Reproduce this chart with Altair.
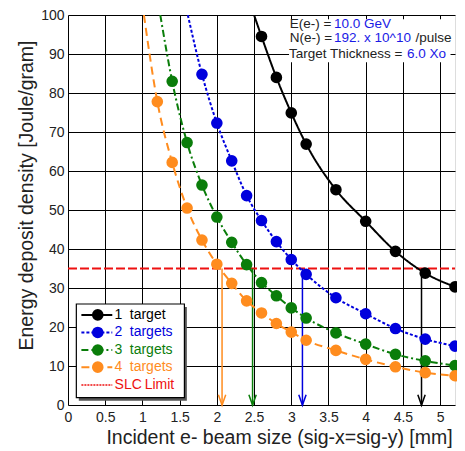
import altair as alt
import pandas as pd

FONT = "Liberation Sans"

# beam sizes (mm)
sizes = [1.2, 1.4, 1.6, 1.8, 2.0, 2.2, 2.4, 2.6, 2.8, 3.0, 3.2, 3.6, 4.0, 4.4, 4.8, 5.2]

t1_vals = [94.5, 84.0, 74.9, 66.9, 55.2, 47.1, 39.4, 33.8, 30.3]                 # from 2.6
t2_vals = [84.8, 72.3, 62.6, 53.7, 47.3, 41.9, 37.3, 33.5, 27.5, 23.4, 19.6, 16.9, 15.1]  # from 1.8
t3_vals = [83.0, 67.3, 56.4, 48.2, 41.7, 36.0, 31.4, 28.0, 24.9, 22.3, 18.5, 15.6, 13.0, 11.3, 10.1]  # from 1.4
t4_vals = [77.8, 62.2, 50.5, 42.3, 36.1, 31.2, 26.7, 23.6, 20.9, 18.7, 16.6, 14.0, 11.7, 9.8, 8.3, 7.5]  # from 1.2

# where each fitted curve leaves the top of the plot
curve_top_x = [2.50, 1.61, 1.24, 1.02]

series_nums = ["1", "2", "3", "4"]
series_words = ["target", "targets", "targets", "targets"]
series_vals = [t1_vals, t2_vals, t3_vals, t4_vals]
series_colors = ["#000000", "#0000dd", "#0a7d0a", "#ff8c1e"]
series_dash = [[1, 0], [3, 2], [7, 3, 2, 3], [8, 5]]

slc_limit = 35.0
arrow_x = [4.75, 3.15, 2.48, 2.07]

x_ticks = [0, 0.5, 1, 1.5, 2, 2.5, 3, 3.5, 4, 4.5, 5]
y_ticks = [0, 10, 20, 30, 40, 50, 60, 70, 80, 90, 100]

xs = alt.Scale(domain=[0, 5.2], nice=False, zero=False)
ys = alt.Scale(domain=[0, 100], nice=False, zero=False)

x_axis = alt.Axis(values=x_ticks, format="~g", title="Incident e- beam size (sig-x=sig-y) [mm]",
                  grid=True, gridColor="#000000", gridWidth=1, gridOpacity=1,
                  ticks=False, domain=False, labelFontSize=14, labelFont=FONT, labelColor="#222222",
                  labelPadding=5, titleFont=FONT, titleFontSize=19.5, titleFontWeight="normal",
                  titleColor="#222222", titleX=211, titleY=38, titleBaseline="alphabetic",
                  labelFlush=False, labelOverlap=False)
y_axis = alt.Axis(values=y_ticks, title="Energy deposit density [Joule/gram]",
                  grid=True, gridColor="#000000", gridWidth=1, gridOpacity=1,
                  ticks=False, domain=False, labelFontSize=14, labelFont=FONT, labelColor="#222222",
                  labelPadding=4, titleFont=FONT, titleFontSize=19.5, titleFontWeight="normal",
                  titleColor="#222222", titleX=-42, titleY=180, titleAngle=270,
                  titleBaseline="middle", titleAlign="center", labelFlush=False, labelOverlap=False)


def X(f):
    return alt.X(f, scale=xs, axis=x_axis)


def Y(f):
    return alt.Y(f, scale=ys, axis=y_axis)


layers = []

# SLC limit
slc_df = pd.DataFrame({"x": [0.0], "x2": [5.2], "y": [slc_limit]})
layers.append(alt.Chart(slc_df).mark_rule(color="#ee1111", strokeWidth=2, strokeDash=[9, 3]).encode(
    x=X("x:Q"), x2="x2:Q", y=Y("y:Q")))

# arrows
for i in range(4):
    adf = pd.DataFrame({"x": [arrow_x[i]], "y": [slc_limit], "y2": [0.0], "yh": [0.0]})
    layers.append(alt.Chart(adf).mark_rule(color=series_colors[i], strokeWidth=1.5).encode(
        x=X("x:Q"), y=Y("y:Q"), y2="y2:Q"))
    layers.append(alt.Chart(adf).mark_point(
        shape="M-0.6,-0.7L0,1L0.6,-0.7", filled=False, stroke=series_colors[i],
        strokeWidth=1.5, size=150, opacity=1, yOffset=-6).encode(
        x=X("x:Q"), y=Y("yh:Q")))

# curves and markers
for i in range(4):
    vals = series_vals[i]
    xsz = sizes[len(sizes) - len(vals):]
    line_df = pd.DataFrame({"x": [curve_top_x[i]] + xsz, "y": [100.0] + vals})
    pt_df = pd.DataFrame({"x": xsz, "y": vals})
    layers.append(alt.Chart(line_df).mark_line(
        color=series_colors[i], strokeWidth=2, strokeDash=series_dash[i],
        interpolate="monotone", clip=True).encode(
        x=X("x:Q"), y=Y("y:Q"), order="x:Q"))
    layers.append(alt.Chart(pt_df).mark_circle(color=series_colors[i], size=135, opacity=1).encode(
        x=X("x:Q"), y=Y("y:Q")))

# legend (hand built)
leg_box = [0.112, 1.564, 1.87, 25.9]          # x, x2, y (bottom), y2 (top)
leg_shadow = [0.145, 1.597, 1.1, 25.1]
leg_rows = [23.1, 18.6, 14.1, 9.7, 5.1]
leg_line_x = [0.18, 0.595]
leg_mark_x = 0.40
leg_num_x = 0.626
leg_word_x = 0.83
leg_limit_x = 1.03

sh = pd.DataFrame({"x": [leg_shadow[0]], "x2": [leg_shadow[1]], "y": [leg_shadow[2]], "y2": [leg_shadow[3]]})
layers.append(alt.Chart(sh).mark_rect(color="#555555").encode(
    x=X("x:Q"), x2="x2:Q", y=Y("y:Q"), y2="y2:Q"))
bx = pd.DataFrame({"x": [leg_box[0]], "x2": [leg_box[1]], "y": [leg_box[2]], "y2": [leg_box[3]]})
layers.append(alt.Chart(bx).mark_rect(fill="#ffffff", stroke="#000000", strokeWidth=1.2).encode(
    x=X("x:Q"), x2="x2:Q", y=Y("y:Q"), y2="y2:Q"))

for i in range(4):
    ly = leg_rows[i]
    ldf = pd.DataFrame({"x": leg_line_x, "y": [ly, ly]})
    layers.append(alt.Chart(ldf).mark_line(color=series_colors[i], strokeWidth=2,
                                           strokeDash=series_dash[i]).encode(
        x=X("x:Q"), y=Y("y:Q")))
    mdf = pd.DataFrame({"x": [leg_mark_x], "y": [ly], "n": [series_nums[i]], "w": [series_words[i]],
                        "xn": [leg_num_x], "xw": [leg_word_x]})
    layers.append(alt.Chart(mdf).mark_circle(color=series_colors[i], size=135, opacity=1).encode(
        x=X("x:Q"), y=Y("y:Q")))
    layers.append(alt.Chart(mdf).mark_text(color=series_colors[i], font=FONT, fontSize=14,
                                           align="left", baseline="middle").encode(
        x=X("xn:Q"), y=Y("y:Q"), text="n:N"))
    layers.append(alt.Chart(mdf).mark_text(color=series_colors[i], font=FONT, fontSize=14,
                                           align="left", baseline="middle").encode(
        x=X("xw:Q"), y=Y("y:Q"), text="w:N"))

ly = leg_rows[4]
ldf = pd.DataFrame({"x": leg_line_x, "y": [ly, ly]})
layers.append(alt.Chart(ldf).mark_line(color="#ee1111", strokeWidth=1.5, strokeDash=[2, 1]).encode(
    x=X("x:Q"), y=Y("y:Q")))
tdf = pd.DataFrame({"x": [leg_num_x, leg_limit_x], "y": [ly, ly], "t": ["SLC", "Limit"]})
layers.append(alt.Chart(tdf).mark_text(color="#ee1111", font=FONT, fontSize=14,
                                       align="left", baseline="middle").encode(
    x=X("x:Q"), y=Y("y:Q"), text="t:N"))

# annotation block (top right)
note_box = [2.97, 5.14, 87.9, 98.9]
nb = pd.DataFrame({"x": [note_box[0]], "x2": [note_box[1]], "y": [note_box[2]], "y2": [note_box[3]]})
layers.append(alt.Chart(nb).mark_rect(fill="#ffffff").encode(
    x=X("x:Q"), x2="x2:Q", y=Y("y:Q"), y2="y2:Q"))

note_text = ["E(e-) =", "10.0 GeV", "N(e-) =", "192. x 10^10", "/pulse", "Target Thickness =", "6.0 Xo"]
note_x = [2.98, 3.575, 2.98, 3.575, 4.67, 2.97, 4.555]
note_y = [97.6, 97.6, 94.0, 94.0, 94.0, 90.1, 90.1]
note_c = ["#222222", "#1a1ae6", "#222222", "#1a1ae6", "#222222", "#222222", "#1a1ae6"]
ndf = pd.DataFrame({"x": note_x, "y": note_y, "t": note_text, "c": note_c})
layers.append(alt.Chart(ndf).mark_text(font=FONT, fontSize=13.5, align="left", baseline="middle").encode(
    x=X("x:Q"), y=Y("y:Q"), text="t:N",
    color=alt.Color("c:N", scale=None)))

chart = alt.layer(*layers).properties(
    width=387, height=390,
    autosize=alt.AutoSizeParams(type="none"),
    padding={"left": 60, "top": 7, "right": 2, "bottom": 46},
).configure_view(stroke="#000000", strokeWidth=1.5).configure(background="#ffffff")

chart.save("out.html", embed_options={"renderer": "svg", "actions": False})
